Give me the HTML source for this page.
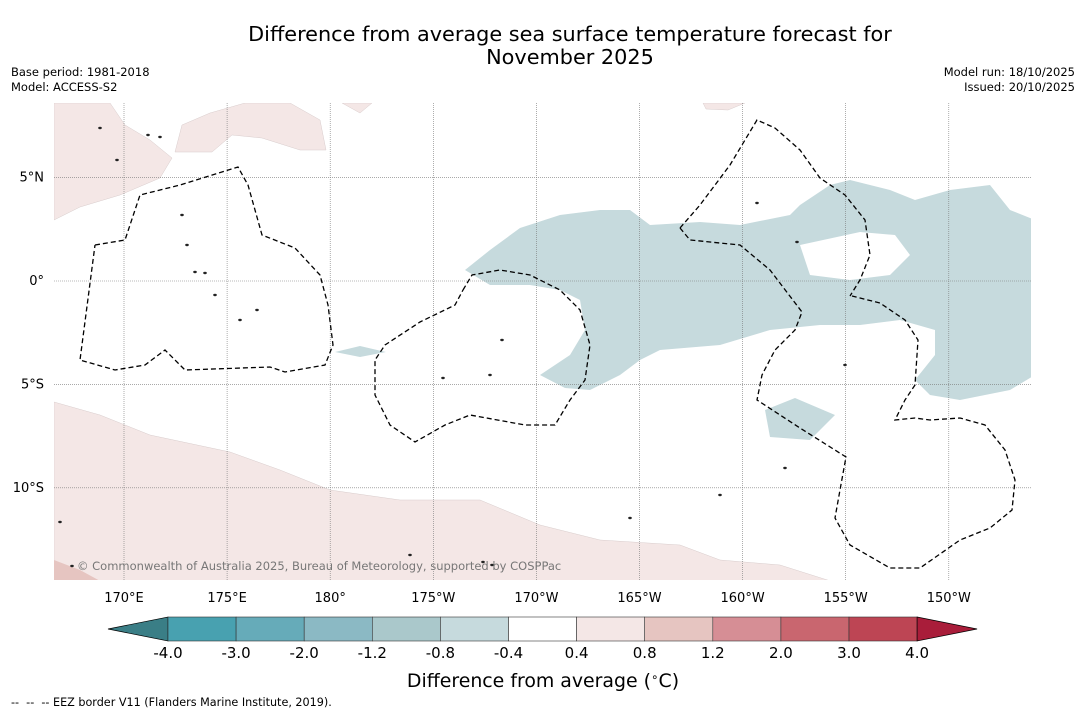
<!DOCTYPE html>
<html><head><meta charset="utf-8"><style>
body{margin:0;background:#fff;width:1085px;height:713px;overflow:hidden;font-family:"DejaVu Sans","Liberation Sans",sans-serif}
svg text{font-family:"DejaVu Sans","Liberation Sans",sans-serif;white-space:pre}
</style></head><body>
<svg id="c" width="1085" height="713">
<text x="570" y="41" font-size="20.8" text-anchor="middle">Difference from average sea surface temperature forecast for</text>
<text x="570" y="64" font-size="20.8" text-anchor="middle">November 2025</text>
<text x="11" y="76" font-size="11.5">Base period: 1981-2018</text>
<text x="11" y="91" font-size="11.5">Model: ACCESS-S2</text>
<text x="1075" y="76" font-size="11.5" text-anchor="end">Model run: 18/10/2025</text>
<text x="1075" y="91" font-size="11.5" text-anchor="end">Issued: 20/10/2025</text>
<defs><clipPath id="mc"><rect x="54" y="103" width="977" height="477"/></clipPath></defs>
<g id="map" clip-path="url(#mc)"></g>
<g id="axes"></g>
<g id="cbar"></g>
<text x="543" y="687" font-size="18.9" text-anchor="middle">Difference from average (<tspan font-size="12" dy="-6">∘</tspan><tspan dy="6">C)</tspan></text>
<text x="11" y="706" font-size="11.2">--  --  -- EEZ border V11 (Flanders Marine Institute, 2019).</text>
</svg>
<script>
const NS="http://www.w3.org/2000/svg";
const lonTicks=[170,175,180,-175,-170,-165,-160,-155,-150];
const lonLabels=["170°E","175°E","180°","175°W","170°W","165°W","160°W","155°W","150°W"];
const latTicks=[5,0,-5,-10];
const latLabels=["5°N","0°","5°S","10°S"];
const levels=["-4.0","-3.0","-2.0","-1.2","-0.8","-0.4","0.4","0.8","1.2","2.0","3.0","4.0"];
const colors=["#48a1b0","#66abb9","#8bb9c4","#aac8cb","#c6dadd","#ffffff","#f4e7e6","#e6c5c1","#d68e95","#c9666f","#bd4554"];
const lowColor="#3a7e86", highColor="#a91d3a";
function X(lon){let l=lon<0?lon+360:lon;return 124+(l-170)*20.62;}
function Y(lat){return 281-lat*20.68;}
function el(t,a,p){const e=document.createElementNS(NS,t);for(const k in a)e.setAttribute(k,a[k]);p.appendChild(e);return e;}
const map=document.getElementById('map'),axes=document.getElementById('axes'),cbar=document.getElementById('cbar');
function P(pts){return pts.map(p=>[(p[0]-124)/20.62+170,(281-p[1])/20.68]);}
function path(shape){return shape.map((p,i)=>(i?'L':'M')+X(p[0]>180?p[0]-360:p[0]).toFixed(1)+' '+Y(p[1]).toFixed(1)).join(' ')+' Z';}
const pinkShapes=[
P([[54,103],[110,103],[125,125],[150,140],[172,158],[160,178],[120,195],[80,207],[54,220]]),
P([[175,152],[182,125],[210,113],[245,103],[290,103],[320,120],[326,150],[300,150],[262,138],[232,135],[212,152]]),
P([[54,402],[100,415],[150,435],[230,452],[280,470],[330,490],[400,500],[480,500],[540,525],[600,540],[680,545],[720,560],[780,565],[840,584],[54,584]]),
P([[342,103],[372,103],[360,113]]),
P([[703,103],[745,103],[728,110],[706,109]])];
const darkPink=[P([[54,560],[80,570],[102,582],[54,582]])];
const blueMain=P([[465,270],[490,250],[520,228],[560,215],[600,210],[630,210],[650,225],[700,222],[740,225],[790,215],[800,205],[830,185],[850,180],[890,190],[915,200],[950,190],[990,185],[1010,210],[1035,220],[1035,375],[1010,390],[960,400],[930,395],[915,380],[935,355],[935,330],[900,320],[860,325],[820,325],[770,330],[720,345],[660,350],[640,360],[620,375],[590,390],[565,388],[540,375],[570,355],[585,330],[580,300],[560,290],[530,285],[490,285]]);
const blueHole=P([[800,245],[860,232],[895,235],[910,255],[890,275],[850,280],[810,275]]);
const blueSmall=[P([[335,352],[360,346],[386,352],[360,357]]),P([[765,410],[795,398],[835,415],[810,440],[770,437]])];
pinkShapes.forEach((s,i)=>{const e=el('path',{d:path(s),fill:colors[6],stroke:'#d8cccc','stroke-width':0.5},map);

});
darkPink.forEach(s=>{const e=el('path',{d:path(s),fill:colors[7]},map);

});
{const e=el('path',{d:path(blueMain)+' '+path(blueHole),fill:colors[4],'fill-rule':'evenodd'},map);

}
blueSmall.forEach(s=>{const e=el('path',{d:path(s),fill:colors[4]},map);

});
lonTicks.forEach((l,i)=>{const e=el('line',{x1:X(l),x2:X(l),y1:103,y2:580,stroke:'#777','stroke-width':0.6,'stroke-dasharray':'1,1'},map);


const t=el('text',{x:X(l),y:602,'font-size':13,'text-anchor':'middle'},axes);t.textContent=lonLabels[i];

});
latTicks.forEach((l,i)=>{const e=el('line',{x1:54,x2:1031,y1:Y(l),y2:Y(l),stroke:'#777','stroke-width':0.6,'stroke-dasharray':'1,1'},map);


const t=el('text',{x:44,y:Y(l)+4,'font-size':13,'text-anchor':'end'},axes);t.textContent=latLabels[i];

});
const eez=[
P([[95,245],[125,240],[140,195],[180,185],[238,167],[248,185],[262,235],[295,248],[320,275],[328,305],[333,345],[325,365],[285,372],[270,367],[185,370],[165,350],[145,365],[115,370],[80,360],[95,245]]),
P([[463,290],[472,275],[500,270],[530,275],[560,290],[580,310],[590,345],[585,380],[570,400],[555,425],[525,425],[470,415],[445,425],[415,442],[390,425],[375,395],[375,360],[385,345],[420,322],[455,305],[463,290]]),
P([[680,228],[700,205],[730,165],[757,120],[775,128],[800,150],[820,178],[845,195],[865,220],[870,255],[860,280],[850,296]]),
P([[680,228],[690,240],[740,245],[770,270],[802,312],[795,330],[775,350],[762,375],[757,400],[800,428],[846,457],[840,490],[835,518],[850,545],[890,568],[920,568],[960,540],[990,528],[1012,510],[1015,480],[1005,450],[985,425],[960,418],[930,420],[915,418],[895,420],[905,400],[915,385],[918,340],[905,320],[880,303],[852,296]])];
eez.forEach(s=>{const d=path(s).replace(' Z','');const e=el('path',{d:d,fill:'none',stroke:'#000','stroke-width':1.3,'stroke-dasharray':'5,3'},map);

});
const islands=P([[148,135],[160,137],[100,128],[117,160],[182,215],[187,245],[195,272],[205,273],[215,295],[240,320],[257,310],[492,565],[483,562],[72,566],[60,522],[720,495],[785,468],[797,242],[757,203],[502,340],[410,555],[630,518],[845,365],[443,378],[490,375]]);
islands.forEach(p=>{const e=el('ellipse',{cx:X(p[0]>180?p[0]-360:p[0]),cy:Y(p[1]),rx:1.8,ry:1.2,fill:'#222'},map);

});
{const t=el('text',{x:77,y:570,'font-size':11.5,fill:'#777'},map);t.textContent='© Commonwealth of Australia 2025, Bureau of Meteorology, supported by COSPPac';

}
const cx0=168,cw=68.1,cy=617,ch=24;
{const e=el('polygon',{points:`108,629 ${cx0},${cy} ${cx0},${cy+ch}`,fill:lowColor,stroke:'#000','stroke-width':0.7},cbar);

}
colors.forEach((c,i)=>{const e=el('rect',{x:cx0+i*cw,y:cy,width:cw,height:ch,fill:c,stroke:'#333','stroke-width':0.6},cbar);

});
{const xe=cx0+colors.length*cw;const e=el('polygon',{points:`${xe},${cy} ${xe+60},629 ${xe},${cy+ch}`,fill:highColor,stroke:'#000','stroke-width':0.7},cbar);

}
levels.forEach((v,i)=>{const t=el('text',{x:cx0+i*cw,y:658,'font-size':15,'text-anchor':'middle'},cbar);t.textContent=v;

});
</script>
</body></html>
